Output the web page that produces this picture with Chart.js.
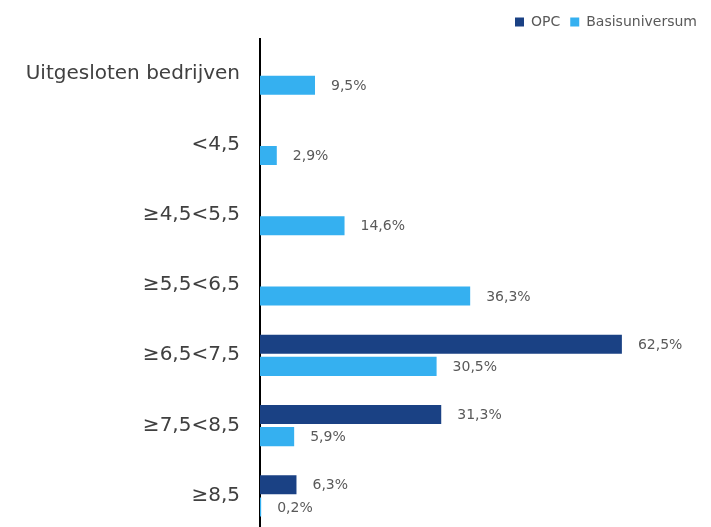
<!DOCTYPE html>
<html>
<head>
<meta charset="utf-8">
<script src="https://cdn.jsdelivr.net/npm/chart.js@4.4.0/dist/chart.umd.min.js"></script>
<style>
  html, body { margin: 0; padding: 0; background: #fff; overflow: hidden; }
</style>
</head>
<body>
<canvas id="grafica" width="711" height="543"></canvas>
<script>
const categorieen = ['Uitgesloten bedrijven', '<4,5', '≥4,5<5,5', '≥5,5<6,5', '≥6,5<7,5', '≥7,5<8,5', '≥8,5'];
const opc = [null, null, null, null, 62.5, 31.3, 6.3];
const basisuniversum = [9.5, 2.9, 14.6, 36.3, 30.5, 5.9, 0.2];

const donkerBlauw = '#1a4184';
const lichtBlauw = '#35b0f0';
const lettertype = '"DejaVu Sans", sans-serif';

// waarden naast de balken tekenen
const waardeLabels = {
    id: 'waardeLabels',
    afterDatasetsDraw(chart) {
        const ctx = chart.ctx;
        ctx.save();
        ctx.font = '14px ' + lettertype;
        ctx.fillStyle = '#595959';
        ctx.textAlign = 'left';
        ctx.textBaseline = 'middle';
        chart.data.datasets.forEach((ds, i) => {
            chart.getDatasetMeta(i).data.forEach((bar, j) => {
                const v = ds.data[j];
                if (v === null) return;
                ctx.fillText(v.toFixed(1).replace('.', ',') + '%', bar.x + 16, bar.y + 1);
            });
        });
        ctx.restore();
    }
};

new Chart(document.getElementById('grafica'), {
    type: 'bar',
    data: {
        labels: categorieen,
        datasets: [
            { label: 'OPC', data: opc, backgroundColor: donkerBlauw },
            { label: 'Basisuniversum', data: basisuniversum, backgroundColor: lichtBlauw }
        ]
    },
    options: {
        indexAxis: 'y',
        responsive: false,
        animation: false,
        categoryPercentage: 0.63,
        barPercentage: 0.86,
        layout: { padding: { left: 6, right: 4, top: 5, bottom: 0 } },
        plugins: {
            legend: {
                position: 'top',
                align: 'end',
                labels: {
                    boxWidth: 9,
                    boxHeight: 9,
                    padding: 10,
                    color: '#595959',
                    font: { size: 14, family: lettertype }
                }
            },
            tooltip: { enabled: false }
        },
        scales: {
            x: {
                display: false,
                min: 0,
                max: 77.2
            },
            y: {
                grid: { display: false, tickLength: 20 },
                border: { display: true, color: '#000', width: 2 },
                afterFit(scale) { scale.width = 254; },
                ticks: {
                    color: '#404040',
                    padding: 0,
                    font: { size: 20, family: lettertype }
                }
            }
        }
    },
    plugins: [waardeLabels]
});
</script>
</body>
</html>
